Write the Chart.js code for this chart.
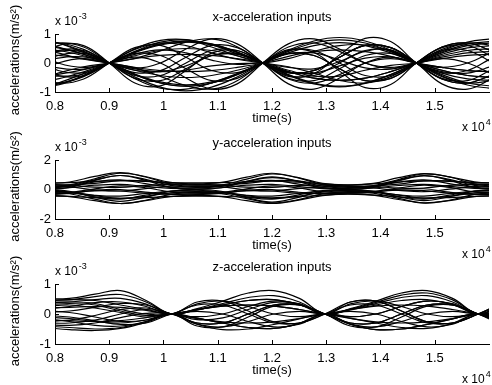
<!DOCTYPE html>
<html>
<head>
<meta charset="utf-8">
<script src="https://cdn.jsdelivr.net/npm/chart.js@4.4.0/dist/chart.umd.min.js"></script>
<style>
body { margin: 0; background: #fff; }
#wrap { position: relative; width: 492px; height: 385px; }
canvas { position: absolute; left: 0; top: 0; }
</style>
</head>
<body>
<div id="wrap">
<canvas id="xChart" width="492" height="385"></canvas>
<canvas id="yChart" width="492" height="385"></canvas>
<canvas id="zChart" width="492" height="385"></canvas>
</div>
<script>
const FONT = '"Liberation Sans", Arial, Helvetica, sans-serif';

// time axis, in units of 10^4 s
const timeTicks = [0.8, 0.9, 1, 1.1, 1.2, 1.3, 1.4, 1.5];

// x-acceleration, values in 10^-3 m/s^2
const xTimes = [0.7585, 0.8057, 0.8528, 0.9, 0.9472, 0.9943, 1.0415, 1.0887, 1.1358, 1.183,
    1.2302, 1.2773, 1.3245, 1.3717, 1.4188, 1.466, 1.5132, 1.5603, 1.6075];
const xAccTicks = [-1, 0, 1];
const xAcc = [
    [0.60, 0.69, 0.47, 0, -0.43, -0.43, 0, 0.43, 0.43, 0, -0.53, -0.61, -0.20, 0.26, 0.33, 0, -0.33, -0.26, 0.20],
    [-0.60, -0.69, -0.47, 0, 0.47, 0.69, 0.60, 0.35, 0.13, 0, -0.13, -0.35, -0.60, -0.69, -0.47, 0, 0.43, 0.43, 0],
    [0.80, 0.69, 0.40, 0, -0.40, -0.69, -0.80, -0.69, -0.40, 0, 0.44, 0.76, 0.88, 0.76, 0.44, 0, -0.40, -0.69, -0.80],
    [-0.88, -0.76, -0.44, 0, 0.36, 0.62, 0.72, 0.62, 0.36, 0, -0.40, -0.69, -0.80, -0.69, -0.40, 0, 0.42, 0.72, 0.84],
    [0.40, 0.69, 0.55, 0, -0.53, -0.61, -0.20, 0.26, 0.33, 0, -0.33, -0.26, 0.20, 0.61, 0.53, 0, -0.55, -0.69, -0.40],
    [-0.40, -0.69, -0.55, 0, 0.53, 0.61, 0.20, -0.26, -0.33, 0, 0.33, 0.26, -0.20, -0.61, -0.53, 0, 0.55, 0.69, 0.40],
    [0.60, 0.35, 0.13, 0, -0.17, -0.46, -0.78, -0.90, -0.61, 0, 0.43, 0.43, 0, -0.43, -0.43, 0, 0.47, 0.69, 0.60],
    [-0.60, -0.35, -0.13, 0, 0.16, 0.42, 0.72, 0.83, 0.56, 0, -0.43, -0.43, 0, 0.43, 0.43, 0, -0.47, -0.69, -0.60],
    [0.30, 0.26, 0.15, 0, -0.15, -0.26, -0.30, -0.26, -0.15, 0, 0.23, 0.39, 0.45, 0.39, 0.23, 0, -0.15, -0.26, -0.30],
    [-0.45, -0.39, -0.23, 0, 0.15, 0.26, 0.30, 0.26, 0.15, 0, -0.30, -0.52, -0.60, -0.52, -0.30, 0, 0.30, 0.52, 0.60],
    [0.40, 0, -0.15, 0, 0.20, 0, -0.52, -0.90, -0.72, 0, 0.66, 0.83, 0.48, 0, -0.18, 0, 0.15, 0, -0.40],
    [-0.40, 0, 0.15, 0, -0.18, 0, 0.48, 0.83, 0.66, 0, -0.72, -0.90, -0.52, 0, 0.20, 0, -0.15, 0, 0.40],
    [0, -0.43, -0.43, 0, 0.49, 0.78, 0.81, 0.62, 0.32, 0, -0.33, -0.26, 0.20, 0.61, 0.53, 0, -0.55, -0.69, -0.40],
    [0, 0.43, 0.43, 0, -0.54, -0.87, -0.90, -0.69, -0.36, 0, 0.33, 0.26, -0.20, -0.61, -0.53, 0, 0.55, 0.69, 0.40],
    [0.50, 0.43, 0.25, 0, -0.25, -0.43, -0.50, -0.43, -0.25, 0, 0.35, 0.60, 0.70, 0.60, 0.35, 0, -0.25, -0.43, -0.50],
    [-0.85, -0.73, -0.43, 0, 0.25, 0.43, 0.50, 0.43, 0.25, 0, -0.30, -0.52, -0.60, -0.52, -0.30, 0, 0.38, 0.65, 0.75],
    [0.10, -0.17, -0.21, 0, 0.38, 0.65, 0.75, 0.65, 0.38, 0, -0.31, -0.35, -0.10, 0.17, 0.21, 0, -0.25, -0.43, -0.50],
    [-0.10, 0.17, 0.21, 0, -0.40, -0.69, -0.80, -0.69, -0.40, 0, 0.31, 0.35, 0.10, -0.17, -0.21, 0, 0.25, 0.43, 0.50],
    [0.20, -0.26, -0.33, 0, 0.38, 0.66, 0.76, 0.66, 0.38, 0, -0.46, -0.36, 0.28, 0.85, 0.74, 0, -0.53, -0.61, -0.20],
    [-0.20, 0.26, 0.33, 0, -0.48, -0.83, -0.96, -0.83, -0.48, 0, 0.46, 0.36, -0.28, -0.85, -0.74, 0, 0.53, 0.61, 0.20],
    [0.90, 0.69, 0.36, 0, -0.33, -0.26, 0.20, 0.61, 0.53, 0, -0.55, -0.69, -0.40, 0, 0.15, 0, -0.15, -0.26, -0.30],
    [-0.90, -0.69, -0.36, 0, 0.33, 0.26, -0.20, -0.61, -0.53, 0, 0.55, 0.69, 0.40, 0, -0.15, 0, 0.15, 0.26, 0.30],
    [0.60, 0.52, 0.30, 0, -0.38, -0.65, -0.75, -0.65, -0.38, 0, 0.40, 0.69, 0.80, 0.69, 0.40, 0, -0.44, -0.76, -0.88],
    [0, 0.60, 0.60, 0, -0.69, -0.79, -0.26, 0.34, 0.43, 0, -0.33, -0.26, 0.20, 0.61, 0.53, 0, -0.72, -0.90, -0.52],
    [0.70, 0.55, 0.30, 0, -0.20, -0.30, -0.25, -0.10, -0.02, 0, 0.15, 0.40, 0.60, 0.62, 0.40, 0, -0.35, -0.55, -0.60],
    [-0.30, -0.45, -0.38, 0, 0.30, 0.45, 0.35, 0.10, -0.05, 0, -0.25, -0.45, -0.45, -0.25, -0.08, 0, 0.20, 0.35, 0.40],
    [0.20, 0.40, 0.38, 0, -0.25, -0.30, -0.10, 0.25, 0.30, 0, -0.42, -0.72, -0.82, -0.70, -0.40, 0, 0.35, 0.60, 0.70],
    [-0.70, -0.55, -0.30, 0, 0.40, 0.72, 0.80, 0.55, 0.25, 0, -0.15, -0.20, 0.05, 0.40, 0.45, 0, -0.30, -0.35, -0.10]
];

// y-acceleration
const yTimes = [0.7333, 0.78, 0.8267, 0.8733, 0.92, 0.9667, 1.0133, 1.06, 1.1067, 1.1533,
    1.2, 1.2467, 1.2933, 1.34, 1.3867, 1.4333, 1.48, 1.5267, 1.5733, 1.62];
const yAccTicks = [-2, 0, 2];
const yAcc = [
    [0.42, 0.40, 0.51, 0.89, 1.15, 0.88, 0.48, 0.38, 0.48, 0.84, 1.10, 0.82, 0.42, 0.30, 0.41, 0.80, 1.08, 0.86, 0.52, 0.42],
    [-0.38, -0.40, -0.48, -0.76, -0.95, -0.76, -0.48, -0.40, -0.48, -0.76, -0.95, -0.74, -0.42, -0.30, -0.38, -0.68, -0.90, -0.76, -0.48, -0.40],
    [0.20, 0.20, 0.31, 0.73, 1.10, 0.85, 0.37, 0.20, 0.30, 0.70, 1.05, 0.80, 0.32, 0.15, 0.26, 0.68, 1.05, 0.85, 0.37, 0.20],
    [-0.22, -0.20, -0.29, -0.65, -0.95, -0.73, -0.33, -0.20, -0.29, -0.62, -0.90, -0.70, -0.30, -0.15, -0.25, -0.60, -0.92, -0.73, -0.33, -0.20],
    [0.12, 0.10, 0.21, 0.52, 0.65, 0.40, 0.15, 0.10, 0.21, 0.50, 0.62, 0.38, 0.13, 0.07, 0.18, 0.50, 0.65, 0.40, 0.15, 0.10],
    [-0.08, -0.10, -0.18, -0.39, -0.45, -0.27, -0.12, -0.10, -0.18, -0.39, -0.45, -0.27, -0.10, -0.07, -0.15, -0.36, -0.45, -0.27, -0.12, -0.10],
    [0.30, 0.30, 0.31, 0.42, 0.60, 0.58, 0.39, 0.30, 0.31, 0.42, 0.60, 0.58, 0.35, 0.21, 0.24, 0.36, 0.58, 0.58, 0.39, 0.30],
    [-0.30, -0.30, -0.23, -0.09, -0.10, -0.25, -0.31, -0.30, -0.23, -0.09, -0.10, -0.25, -0.27, -0.21, -0.16, -0.04, -0.08, -0.25, -0.31, -0.30],
    [0.02, 0, 0.14, 0.62, 0.95, 0.62, 0.14, 0, 0.12, 0.55, 0.85, 0.55, 0.12, 0, 0.14, 0.62, 0.95, 0.62, 0.14, 0],
    [-0.02, 0, -0.12, -0.52, -0.80, -0.52, -0.12, 0, -0.12, -0.55, -0.85, -0.55, -0.12, 0, -0.11, -0.49, -0.75, -0.49, -0.11, 0],
    [0.25, 0.25, 0.18, -0.02, -0.10, 0.06, 0.22, 0.25, 0.18, -0.02, -0.10, 0.06, 0.18, 0.17, 0.10, -0.06, -0.15, 0.02, 0.20, 0.25],
    [-0.25, -0.25, -0.20, 0.04, 0.25, 0.12, -0.16, -0.25, -0.20, 0.04, 0.25, 0.12, -0.14, -0.17, -0.12, 0.10, 0.30, 0.14, -0.16, -0.25],
    [0.45, 0.45, 0.47, 0.55, 0.60, 0.55, 0.47, 0.45, 0.46, 0.52, 0.56, 0.50, 0.38, 0.32, 0.38, 0.50, 0.58, 0.55, 0.47, 0.45],
    [-0.45, -0.45, -0.47, -0.55, -0.60, -0.55, -0.47, -0.45, -0.46, -0.52, -0.56, -0.50, -0.38, -0.32, -0.38, -0.50, -0.58, -0.55, -0.47, -0.45],
    [0.05, 0.05, 0.12, 0.29, 0.35, 0.21, 0.08, 0.05, 0.12, 0.29, 0.35, 0.21, 0.06, 0.03, 0.10, 0.27, 0.35, 0.21, 0.08, 0.05],
    [-0.05, -0.05, -0.17, -0.50, -0.65, -0.38, -0.11, -0.05, -0.17, -0.50, -0.65, -0.38, -0.08, -0.03, -0.15, -0.48, -0.65, -0.38, -0.11, -0.05],
    [0.15, 0.15, 0.26, 0.65, 0.95, 0.69, 0.28, 0.15, 0.24, 0.55, 0.80, 0.59, 0.23, 0.10, 0.22, 0.60, 0.92, 0.69, 0.28, 0.15],
    [-0.15, -0.15, -0.21, -0.42, -0.60, -0.46, -0.23, -0.15, -0.21, -0.42, -0.60, -0.46, -0.18, -0.10, -0.16, -0.38, -0.58, -0.46, -0.23, -0.15],
    [0.35, 0.35, 0.29, 0.16, 0.15, 0.28, 0.35, 0.35, 0.29, 0.16, 0.15, 0.28, 0.30, 0.25, 0.20, 0.10, 0.10, 0.28, 0.35, 0.35],
    [-0.35, -0.35, -0.27, -0.06, 0, -0.18, -0.33, -0.35, -0.27, -0.06, 0, -0.18, -0.28, -0.25, -0.19, 0.02, 0.05, -0.18, -0.33, -0.35]
];

// z-acceleration
const zTimes = [0.7796, 0.8267, 0.8737, 0.9208, 0.9679, 1.015, 1.0621, 1.1092, 1.1562, 1.2033,
    1.2504, 1.2975, 1.3446, 1.3917, 1.4387, 1.4858, 1.5329, 1.58, 1.6271];
const zAccTicks = [-1, 0, 1];
const zAcc = [
    [0.50, 0.52, 0.66, 0.78, 0.45, 0, 0.18, 0.43, 0.70, 0.78, 0.52, 0, 0.18, 0.43, 0.70, 0.78, 0.52, 0, 0.18],
    [0.45, 0.47, 0.58, 0.65, 0.40, 0, 0.15, 0.35, 0.55, 0.61, 0.40, 0, 0.15, 0.35, 0.55, 0.61, 0.40, 0, 0.15],
    [0.40, 0.40, 0.48, 0.52, 0.33, 0, 0.14, 0.30, 0.45, 0.48, 0.31, 0, 0.16, 0.39, 0.63, 0.70, 0.47, 0, 0.14],
    [-0.40, -0.45, -0.50, -0.45, -0.25, 0, -0.34, -0.52, -0.50, -0.35, -0.16, 0, -0.14, -0.30, -0.45, -0.48, -0.31, 0, -0.30],
    [-0.45, -0.52, -0.55, -0.48, -0.28, 0, -0.14, -0.30, -0.45, -0.48, -0.31, 0, -0.34, -0.52, -0.50, -0.35, -0.16, 0, -0.30],
    [0.30, 0.35, 0.30, 0.10, -0.05, 0, 0.30, 0.30, 0, -0.30, -0.30, 0, 0.30, 0.30, 0, -0.30, -0.30, 0, 0.30],
    [-0.30, -0.30, -0.20, 0, 0.15, 0, -0.30, -0.30, 0, 0.30, 0.30, 0, -0.30, -0.30, 0, 0.30, 0.30, 0, -0.30],
    [0.35, 0.40, 0.35, 0.15, 0, 0, 0.34, 0.43, 0.25, 0, -0.09, 0, -0.09, 0, 0.25, 0.43, 0.34, 0, 0.34],
    [-0.35, -0.38, -0.30, -0.12, 0.02, 0, -0.34, -0.43, -0.25, 0, 0.09, 0, 0.09, 0, -0.25, -0.43, -0.34, 0, -0.34],
    [0.05, 0.10, 0.22, 0.35, 0.30, 0, -0.09, 0, 0.25, 0.43, 0.34, 0, 0.34, 0.43, 0.25, 0, -0.09, 0, -0.09],
    [-0.05, -0.10, -0.22, -0.35, -0.30, 0, 0.09, 0, -0.25, -0.43, -0.34, 0, -0.34, -0.43, -0.25, 0, 0.09, 0, 0.09],
    [0.20, 0.22, 0.25, 0.22, 0.12, 0, 0.15, 0.26, 0.30, 0.26, 0.15, 0, -0.15, -0.26, -0.30, -0.26, -0.15, 0, 0.15],
    [-0.20, -0.22, -0.25, -0.22, -0.12, 0, -0.15, -0.26, -0.30, -0.26, -0.15, 0, 0.15, 0.26, 0.30, 0.26, 0.15, 0, -0.15],
    [0.15, 0.25, 0.38, 0.40, 0.25, 0, 0.40, 0.43, 0.10, -0.26, -0.30, 0, 0.40, 0.43, 0.10, -0.26, -0.30, 0, 0.40],
    [-0.15, -0.25, -0.38, -0.40, -0.25, 0, -0.40, -0.43, -0.10, 0.26, 0.30, 0, -0.40, -0.43, -0.10, 0.26, 0.30, 0, -0.40],
    [0.25, 0.30, 0.20, 0.05, -0.10, 0, -0.19, -0.13, 0.15, 0.39, 0.34, 0, 0.40, 0.43, 0.10, -0.26, -0.30, 0, 0.40],
    [-0.25, -0.20, -0.05, 0.15, 0.20, 0, -0.14, -0.30, -0.45, -0.48, -0.31, 0, -0.09, 0, 0.25, 0.43, 0.34, 0, -0.09],
    [0.10, 0.05, -0.10, -0.25, -0.20, 0, 0.14, 0.30, 0.45, 0.48, 0.31, 0, -0.30, -0.30, 0, 0.30, 0.30, 0, -0.30],
    [0.45, 0.48, 0.45, 0.30, 0.15, 0, 0.15, 0.26, 0.30, 0.26, 0.15, 0, 0.14, 0.30, 0.45, 0.48, 0.31, 0, 0.14],
    [-0.10, -0.15, -0.25, -0.30, -0.20, 0, -0.30, -0.30, 0, 0.30, 0.30, 0, -0.34, -0.52, -0.50, -0.35, -0.16, 0, -0.34]
];

function makeDatasets(times, lines) {
    return lines.map(vals => ({
        data: vals.map((v, i) => ({ x: times[i], y: v })),
        borderColor: '#000',
        borderWidth: 1.2,
        pointRadius: 0,
        tension: 0.4,
        fill: false
    }));
}

function power(ctx, exp, x, y) {
    ctx.font = '12px ' + FONT;
    ctx.fillText('x 10', x, y);
    let w = ctx.measureText('x 10').width;
    ctx.font = '9px ' + FONT;
    ctx.fillText(exp, x + w + 1, y - 6);
}

// inward ticks, titles and exponent labels, matlab style
const matlabAxes = {
    id: 'matlabAxes',
    afterDraw(chart, args, opts) {
        let ctx = chart.ctx;
        let a = chart.chartArea;
        let xs = chart.scales.x, ys = chart.scales.y;
        ctx.save();
        ctx.strokeStyle = '#000';
        ctx.lineWidth = 1;
        ctx.beginPath();
        for (let t of xs.ticks) {
            let px = Math.round(xs.getPixelForValue(t.value)) + 0.5;
            ctx.moveTo(px, a.bottom);
            ctx.lineTo(px, a.bottom - 4);
        }
        for (let t of ys.ticks) {
            let py = Math.round(ys.getPixelForValue(t.value)) + 0.5;
            ctx.moveTo(a.left, py);
            ctx.lineTo(a.left + 4, py);
        }
        ctx.stroke();

        let mid = (a.left + a.right) / 2;
        ctx.fillStyle = '#000';
        ctx.textAlign = 'center';
        ctx.textBaseline = 'middle';
        ctx.font = '13px ' + FONT;
        ctx.fillText(opts.title, mid, a.top - 17);
        ctx.fillText('time(s)', mid, a.bottom + 26);

        ctx.save();
        ctx.translate(15, (a.top + a.bottom) / 2 - 3);
        ctx.rotate(-Math.PI / 2);
        ctx.fillText('accelerations(m/s²)', 0, 0);
        ctx.restore();

        ctx.textAlign = 'left';
        ctx.textBaseline = 'alphabetic';
        power(ctx, '-3', a.left, a.top - 9);
        power(ctx, '4', a.right - 27, a.bottom + 39);
        ctx.restore();
    }
};

function makeChart(id, times, lines, yTicks, title, top, bottom) {
    return new Chart(document.getElementById(id), {
        type: 'line',
        data: { datasets: makeDatasets(times, lines) },
        options: {
            responsive: false,
            animation: false,
            devicePixelRatio: 1,
            layout: { padding: { left: 0, right: 3, top: top, bottom: 385 - 30 - bottom } },
            plugins: {
                legend: { display: false },
                tooltip: { enabled: false },
                matlabAxes: { title: title }
            },
            scales: {
                x: {
                    type: 'linear',
                    min: 0.8,
                    max: 1.6,
                    afterBuildTicks: s => { s.ticks = timeTicks.map(v => ({ value: v })); },
                    afterFit: s => { s.height = 30; },
                    grid: { display: false, drawTicks: false },
                    border: { display: true, color: '#000', width: 1 },
                    ticks: {
                        color: '#000', padding: 7, maxRotation: 0, autoSkip: false,
                        font: { family: FONT, size: 13 },
                        callback: v => String(v)
                    }
                },
                y: {
                    type: 'linear',
                    min: yTicks[0],
                    max: yTicks[yTicks.length - 1],
                    afterBuildTicks: s => { s.ticks = yTicks.map(v => ({ value: v })); },
                    afterFit: s => { s.width = 55; },
                    grid: { display: false, drawTicks: false },
                    border: { display: true, color: '#000', width: 1 },
                    ticks: {
                        color: '#000', padding: 4, autoSkip: false,
                        font: { family: FONT, size: 13 },
                        callback: v => String(v)
                    }
                }
            }
        },
        plugins: [matlabAxes]
    });
}

makeChart('xChart', xTimes, xAcc, xAccTicks, 'x-acceleration inputs', 34, 92);
makeChart('yChart', yTimes, yAcc, yAccTicks, 'y-acceleration inputs', 160, 219);
makeChart('zChart', zTimes, zAcc, zAccTicks, 'z-acceleration inputs', 284, 344);
</script>
</body>
</html>
